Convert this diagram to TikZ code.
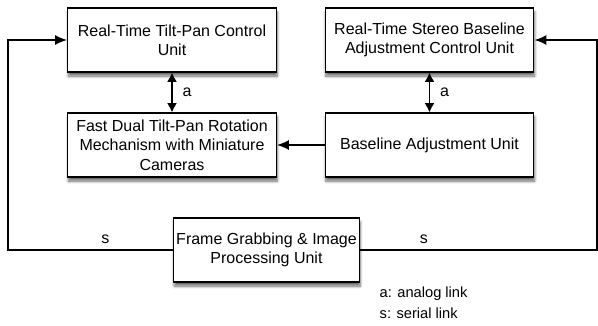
\documentclass[tikz,border=0pt]{standalone}
\usepackage{fontspec}
\setmainfont{Liberation Sans}
\usetikzlibrary{arrows.meta,shadows.blur}

\begin{document}
\begin{tikzpicture}[x=0.75pt,y=-0.75pt,
    unit/.style={draw,fill=white,line width=0.8pt,align=center,
      minimum height=48pt,inner sep=2pt,
      blur shadow={shadow xshift=0.5pt,shadow yshift=-3pt,shadow blur steps=6,shadow opacity=60}},
    link/.style={line width=1.3pt,-{Latex[length=9pt,width=7.5pt]}},
    dlink/.style={line width=1.3pt,{Latex[length=7pt,width=7.5pt]}-{Latex[length=7pt,width=7.5pt]}},
    every node/.style={font=\fontsize{12}{14.5}\selectfont}]

    \useasboundingbox (0,0) rectangle (598,325);

    \pgfmathsetmacro{\wideW}{156.5}
    \pgfmathsetmacro{\grabW}{137.5}

    \node[unit,minimum width=\wideW pt] (tpctrl) at (172,40)
      {Real-Time Tilt-Pan Control\\Unit};
    \node[unit,minimum width=\wideW pt] (rotmech) at (172,145)
      {Fast Dual Tilt-Pan Rotation\\Mechanism with Miniature\\Cameras};
    \node[unit,minimum width=\wideW pt] (blctrl) at (429.5,40)
      {Real-Time Stereo Baseline\\Adjustment Control Unit};
    \node[unit,minimum width=\wideW pt] (bladj) at (429.5,145)
      {Baseline Adjustment Unit};
    \node[unit,minimum width=\grabW pt] (grab) at (266.5,250)
      {Frame Grabbing \& Image\\Processing Unit};

    \coordinate (lcorner) at (8,250);
    \coordinate (rcorner) at (597,250);

    % analog links
    \draw[dlink] (tpctrl) -- node[right=4pt] {a} (rotmech);
    \draw[dlink] (blctrl) -- node[right=4pt] {a} (bladj);
    \draw[link] (bladj) -- (rotmech);

    % serial links
    \draw[link] (grab.west) -- node[pos=0.41,above=1pt] {s} (lcorner) |- (tpctrl.west);
    \draw[link] (grab.east) -- node[pos=0.27,above=1pt] {s} (rcorner) |- (blctrl.east);

    \node[anchor=west,align=left,font=\fontsize{11}{16}\selectfont] (legend) at (375,303)
      {a: analog link\\s: serial link};
  \end{tikzpicture}
\end{document}
